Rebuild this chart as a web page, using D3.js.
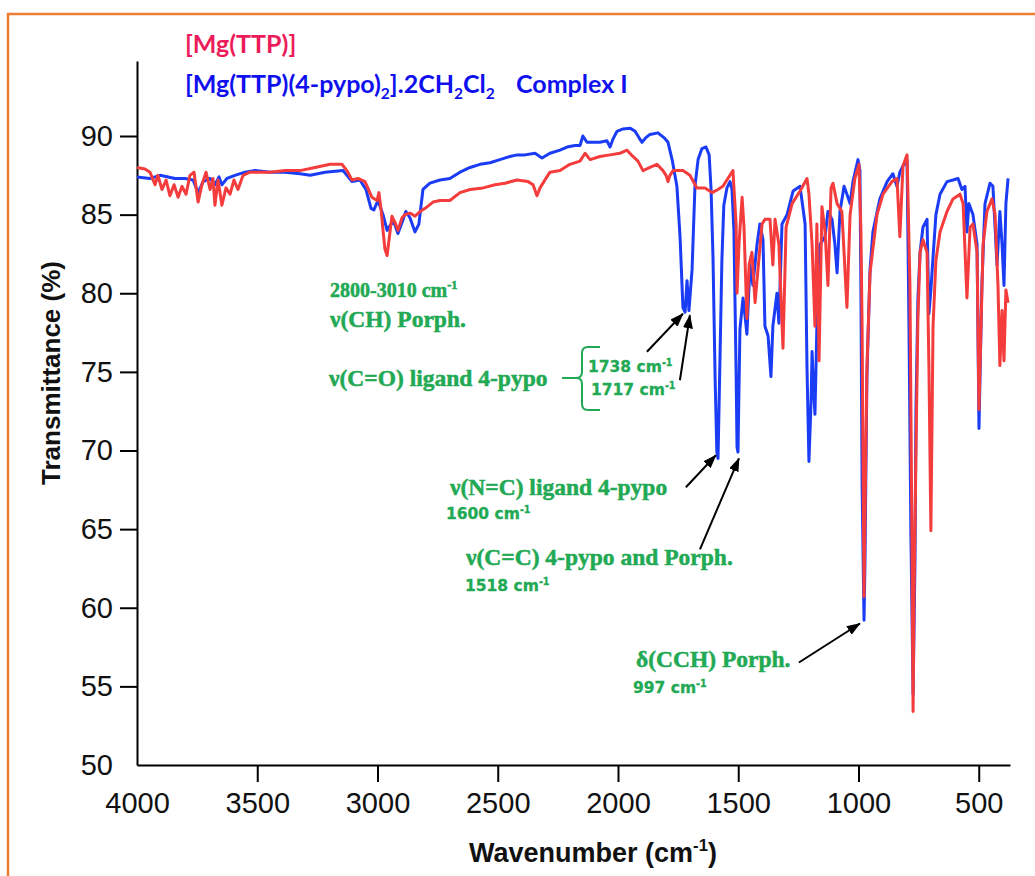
<!DOCTYPE html>
<meta charset="utf-8">
<script src="https://d3js.org/d3.v7.min.js"></script>
<style>
  body { margin: 0; background: #fff; }
</style>
<div id="vis"></div>
<script type="text/javascript">

var xTicks = [4000, 3500, 3000, 2500, 2000, 1500, 1000, 500];
var yTicks = [50, 55, 60, 65, 70, 75, 80, 85, 90];

// [wavenumber (cm-1), transmittance (%)]
var complexI = [[4000,87.4],[3946,87.3],[3904,87.5],[3842,87.3],[3800,87.3],[3767,87.2],[3746,86.4],[3725,87.1],[3696,87.3],[3676,86.9],[3659,87.4],[3647,86.9],[3626,87.3],[3593,87.5],[3551,87.7],[3509,87.8],[3447,87.7],[3384,87.7],[3322,87.6],[3280,87.5],[3218,87.7],[3143,87.8],[3122,87.4],[3106,87.1],[3073,87.2],[3048,86.6],[3027,85.4],[3015,85.3],[2998,85.9],[2977,85.0],[2960,84.0],[2944,84.4],[2931,84.5],[2915,83.8],[2898,84.5],[2882,85.2],[2865,84.8],[2844,83.9],[2828,84.4],[2811,86.6],[2782,87.0],[2740,87.2],[2699,87.3],[2657,87.7],[2615,88.0],[2574,88.2],[2532,88.3],[2491,88.5],[2449,88.7],[2420,88.8],[2387,88.8],[2345,88.9],[2316,88.6],[2283,88.9],[2241,89.1],[2212,89.3],[2179,89.4],[2158,89.4],[2146,90.0],[2129,89.6],[2104,89.6],[2075,89.6],[2046,89.7],[2033,89.3],[2021,89.8],[2004,90.3],[1979,90.45],[1950,90.5],[1929,90.3],[1913,89.9],[1900,89.6],[1884,89.9],[1867,90.1],[1834,90.2],[1809,89.9],[1792,89.6],[1775,88.5],[1755,86.8],[1742,83.6],[1730,79.1],[1721,78.8],[1713,80.8],[1705,78.9],[1692,81.5],[1680,86.8],[1667,88.5],[1651,89.2],[1634,89.3],[1621,88.8],[1613,86.6],[1605,82.3],[1596,74.5],[1589,69.9],[1584,69.5],[1576,75.8],[1568,82.1],[1560,85.6],[1547,86.7],[1534,87.1],[1526,86.6],[1518,84.0],[1509,75.1],[1505,70.2],[1501,69.9],[1493,77.7],[1480,79.7],[1472,78.6],[1464,77.4],[1451,81.8],[1439,80.5],[1422,83.1],[1410,84.4],[1397,83.4],[1389,77.9],[1376,77.3],[1364,74.7],[1356,77.9],[1339,80.0],[1331,78.1],[1318,84.4],[1297,85.0],[1272,86.5],[1243,86.8],[1222,84.4],[1214,75.2],[1206,69.3],[1197,73.2],[1193,76.3],[1189,74.7],[1181,72.3],[1173,77.9],[1160,83.1],[1139,83.6],[1127,85.2],[1110,84.7],[1098,83.1],[1089,81.3],[1077,85.2],[1060,86.8],[1048,86.3],[1035,85.7],[1023,87.1],[1002,88.5],[994,87.8],[990,80.5],[985,67.8],[977,59.2],[973,63.0],[965,74.7],[952,81.5],[940,83.9],[911,86.0],[881,87.1],[857,87.6],[840,86.8],[828,87.7],[815,88.1],[798,88.4],[790,77.9],[782,64.6],[773,54.5],[765,63.0],[761,72.6],[753,79.6],[744,82.6],[732,84.2],[715,84.7],[707,78.7],[699,80.2],[690,82.3],[678,85.0],[661,86.3],[632,87.1],[607,87.2],[586,87.3],[570,86.6],[557,86.8],[549,83.9],[541,85.7],[524,85.0],[507,83.1],[499,71.4],[487,80.5],[474,85.7],[453,87.0],[441,86.8],[424,81.8],[412,85.2],[403,83.1],[395,80.5],[387,85.7],[378,87.3]];

var mgTTP = [[4000,88.0],[3967,87.9],[3946,87.7],[3925,86.9],[3913,87.5],[3896,86.6],[3879,87.2],[3863,86.2],[3846,86.9],[3829,86.1],[3813,86.8],[3796,86.3],[3780,87.5],[3763,87.7],[3746,85.8],[3730,86.9],[3713,87.7],[3696,86.6],[3684,87.3],[3676,85.6],[3663,87.2],[3647,85.6],[3630,86.7],[3613,86.3],[3597,87.2],[3580,86.6],[3559,87.5],[3530,87.7],[3489,87.7],[3447,87.7],[3384,87.8],[3322,87.8],[3260,88.0],[3197,88.2],[3148,88.2],[3127,87.8],[3106,87.2],[3081,87.3],[3052,87.1],[3023,86.1],[3002,85.9],[2994,86.4],[2985,85.3],[2977,84.0],[2969,82.8],[2960,82.4],[2952,83.4],[2940,84.9],[2927,84.5],[2915,84.0],[2898,84.8],[2886,85.0],[2865,85.1],[2844,84.9],[2823,85.2],[2802,85.4],[2769,85.8],[2740,85.9],[2699,85.9],[2657,86.4],[2615,86.6],[2561,86.7],[2511,86.9],[2470,87.0],[2420,87.2],[2374,87.1],[2353,86.9],[2337,86.2],[2324,86.7],[2304,87.2],[2283,87.7],[2241,87.8],[2200,88.2],[2158,88.4],[2137,88.9],[2116,88.5],[2075,88.7],[2033,88.8],[1992,88.9],[1963,89.1],[1938,88.7],[1917,88.4],[1896,87.8],[1867,88.0],[1838,88.2],[1813,87.8],[1800,87.5],[1792,87.1],[1784,87.5],[1771,87.8],[1730,87.8],[1701,87.5],[1672,86.7],[1638,86.7],[1609,86.4],[1584,86.6],[1564,86.8],[1543,87.3],[1522,87.8],[1509,84.4],[1505,80.0],[1497,83.1],[1484,86.1],[1476,84.2],[1464,78.4],[1455,81.8],[1443,82.6],[1430,79.4],[1418,81.5],[1401,84.4],[1389,84.7],[1368,84.7],[1356,81.8],[1347,84.7],[1331,83.1],[1314,76.5],[1301,84.2],[1276,85.7],[1243,86.5],[1214,87.3],[1206,86.3],[1193,83.1],[1181,77.9],[1173,84.4],[1164,75.7],[1152,85.5],[1139,83.9],[1127,80.5],[1114,86.7],[1106,87.0],[1089,85.7],[1069,85.2],[1048,79.1],[1035,85.0],[1015,87.3],[998,88.2],[990,84.0],[985,77.9],[977,60.7],[973,65.6],[965,75.2],[952,81.3],[923,85.0],[898,86.3],[861,87.1],[840,87.3],[828,83.6],[815,88.1],[798,88.8],[786,80.5],[778,64.9],[773,53.4],[769,60.5],[761,69.9],[753,78.3],[744,82.6],[732,83.4],[715,82.6],[707,75.2],[699,64.9],[690,77.9],[678,82.1],[661,83.9],[632,85.2],[607,86.0],[578,86.3],[565,85.7],[549,79.7],[536,84.2],[524,84.4],[507,82.6],[499,72.6],[482,83.1],[466,85.2],[445,86.0],[432,85.0],[420,80.5],[412,75.4],[403,78.9],[395,75.7],[387,80.2],[378,79.4]];

// peaks pointed at by the annotation arrows
var arrowTips = [[1730,78.7],[1701,78.6],[1593,69.7],[1497,69.5],[994,59.0]];

var width = 1035, height = 876;
var plot = {left: 137, right: 1010, top: 61, bottom: 765};
var green = "#22a954";

var svg = d3.select("#vis")
  .append("svg")
    .attr("width", width)
    .attr("height", height);

// orange frame, runs off the right and bottom edge
svg.append("rect")
  .attr("x", 8).attr("y", 14)
  .attr("width", 1100).attr("height", 1000)
  .attr("fill", "white")
  .attr("stroke", "#ed7d31")
  .attr("stroke-width", 2.5);

var defs = svg.append("defs");
defs.append("marker").attr("id", "head")
  .attr("markerUnits", "userSpaceOnUse")
  .attr("markerWidth", 14).attr("markerHeight", 10)
  .attr("refX", 13).attr("refY", 5)
  .attr("orient", "auto")
  .append("path")
    .attr("d", "M0,0 L14,5 L0,10 Z")
    .attr("fill", "black");

var x = d3.scaleLinear()
  .domain([4000, 370])
  .range([plot.left, plot.right]);

var y = d3.scaleLinear()
  .domain([50, 94.77])
  .range([plot.bottom, plot.top]);

// axes
var gx = svg.append("g")
  .attr("transform", "translate(0," + plot.bottom + ")")
  .call(d3.axisBottom(x).tickValues(xTicks).tickFormat(d3.format("d"))
    .tickSize(17).tickSizeOuter(0).tickPadding(10));

var gy = svg.append("g")
  .attr("transform", "translate(" + plot.left + ",0)")
  .call(d3.axisLeft(y).tickValues(yTicks).tickSize(17).tickSizeOuter(0).tickPadding(7));

gx.selectAll(".tick").filter(d => d === 4000).select("line").remove();
gy.selectAll(".tick").filter(d => d === 50).select("line").remove();

[gx, gy].forEach(g => {
  g.selectAll("path, line").attr("stroke", "black").attr("stroke-width", 2);
  g.selectAll("text")
    .attr("fill", "#111")
    .style("font-family", "'Liberation Sans', Arial, sans-serif")
    .style("font-size", "29px");
});

// rich text with super/subscripts
function rich(g, parts, size) {
  var shift = 0;
  parts.forEach(p => {
    var target = p.sup ? -0.4 * size : p.sub ? 0.22 * size : 0;
    g.append("tspan")
      .attr("dy", target - shift)
      .style("font-size", (p.sup || p.sub) ? (size * 0.62) + "px" : size + "px")
      .text(p.t);
    shift = target;
  });
}

function label(px, py, parts, opts) {
  var t = svg.append("text")
    .attr("x", px).attr("y", py)
    .attr("fill", opts.color)
    .style("font-family", opts.font)
    .style("font-weight", opts.weight || "bold");
  if (opts.thick) t.attr("stroke", opts.color).attr("stroke-width", opts.thick);
  rich(t, parts, opts.size);
  return t;
}

// spectra
var line = d3.line()
  .x(d => x(d[0]))
  .y(d => y(d[1]));

svg.append("path")
  .datum(complexI)
  .attr("fill", "none")
  .attr("stroke", "#1b3cf5")
  .attr("stroke-width", 3)
  .attr("stroke-linejoin", "round")
  .attr("d", line);

svg.append("path")
  .datum(mgTTP)
  .attr("fill", "none")
  .attr("stroke", "#f43c3c")
  .attr("stroke-width", 3)
  .attr("stroke-linejoin", "round")
  .attr("d", line);

// legend
var legendFont = {font: "Lato, 'Open Sans', sans-serif", size: 25};
label(185, 53, [{t: "[Mg(TTP)]"}], Object.assign({color: "#ec1c5a"}, legendFont));
label(185, 93, [{t: "[Mg(TTP)(4-pypo)"}, {t: "2", sub: true}, {t: "].2CH"}, {t: "2", sub: true},
  {t: "Cl"}, {t: "2", sub: true}], Object.assign({color: "#1010ee"}, legendFont));
label(516, 93, [{t: "Complex I"}], Object.assign({color: "#1010ee"}, legendFont));

// axis titles
label(593, 862, [{t: "Wavenumber (cm"}, {t: "-1", sup: true}, {t: ")"}],
  {color: "#111", font: "'Liberation Sans', Arial, sans-serif", size: 27})
  .attr("text-anchor", "middle");

svg.append("text")
  .attr("transform", "translate(60,373) rotate(-90)")
  .attr("text-anchor", "middle")
  .attr("fill", "#111")
  .style("font-family", "'Liberation Sans', Arial, sans-serif")
  .style("font-weight", "bold")
  .style("font-size", "26px")
  .text("Transmittance (%)");

// band annotations
var serif = {color: green, font: "'Liberation Serif', 'Times New Roman', serif", size: 23.5, thick: 0.5};
var sans = {color: green, font: "'DejaVu Sans', Verdana, sans-serif", size: 15.5, thick: 0.3};
var serifSmall = Object.assign({}, serif, {size: 20});

label(330, 297, [{t: "2800-3010 cm"}, {t: "-1", sup: true}], serifSmall);
label(330, 327, [{t: "\u03bd(CH) Porph."}], serif);
label(329, 386, [{t: "\u03bd(C=O) ligand 4-pypo"}], serif);
label(588, 372, [{t: "1738 cm"}, {t: "-1", sup: true}], sans);
label(591, 395, [{t: "1717 cm"}, {t: "-1", sup: true}], sans);
label(450, 495, [{t: "\u03bd(N=C) ligand 4-pypo"}], serif);
label(446, 519, [{t: "1600 cm"}, {t: "-1", sup: true}], sans);
label(466, 565, [{t: "\u03bd(C=C) 4-pypo and Porph."}], serif);
label(465, 591, [{t: "1518 cm"}, {t: "-1", sup: true}], sans);
label(636, 667, [{t: "\u03b4(CCH) Porph."}], serif);
label(633, 693, [{t: "997 cm"}, {t: "-1", sup: true}], sans);

// brace grouping the two carbonyl bands
svg.append("path")
  .attr("d", "M562,378 H576 M600,347 H588 Q582,347 582,353 V372 Q582,378 576,378 Q582,378 582,384 V404 Q582,410 588,410 H600")
  .attr("fill", "none")
  .attr("stroke", green)
  .attr("stroke-width", 2);

// arrows: tail offsets from the tip, in pixels
var tails = [[-36, 38], [-10, 65], [-30, 32], [-39, 91], [-61, 39]];
svg.append("g").selectAll("line").data(arrowTips)
  .enter().append("line")
    .attr("x1", (d, i) => x(d[0]) + tails[i][0])
    .attr("y1", (d, i) => y(d[1]) + tails[i][1])
    .attr("x2", d => x(d[0]))
    .attr("y2", d => y(d[1]))
    .attr("stroke", "black")
    .attr("stroke-width", 2)
    .attr("marker-end", "url(#head)");

</script>
